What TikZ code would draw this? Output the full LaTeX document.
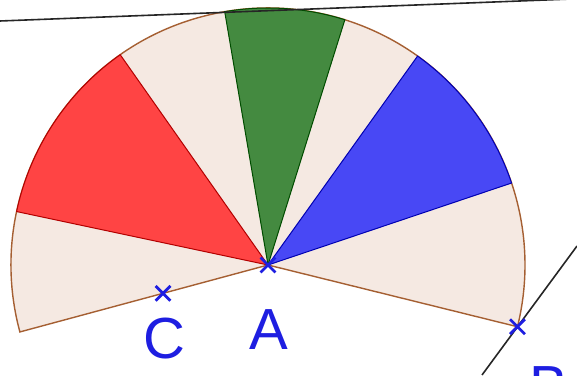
\documentclass[tikz,border=0pt]{standalone}
\usepackage{fontspec}
\setmainfont{Liberation Sans}
\usetikzlibrary{shapes.misc}
\definecolor{sectfill}{RGB}{245,233,226}
\definecolor{sectedge}{RGB}{165,95,50}
\definecolor{redfill}{RGB}{255,68,68}
\definecolor{greenfill}{RGB}{68,138,64}
\definecolor{bluefill}{RGB}{72,72,245}
\definecolor{ptblue}{RGB}{30,30,225}

\begin{document}
\begin{tikzpicture}[x=0.5pt,y=0.5pt,
  sector/.style={fill=sectfill,draw=sectedge,line width=0.7pt},
  redpart/.style={fill=redfill,draw=red!70!black,line width=0.5pt},
  greenpart/.style={fill=greenfill,draw=green!30!black,line width=0.5pt},
  bluepart/.style={fill=bluefill,draw=blue!70!black,line width=0.5pt},
  ptmark/.style={cross out,draw=ptblue,line width=1.4pt,minimum size=6pt,inner sep=0pt},
  ptlabel/.style={text=ptblue,font=\fontsize{29}{31}\selectfont,inner sep=0pt},
  thinline/.style={draw=black!85,line width=0.8pt}]
\clip (0,0) rectangle (577,375);
\def\R{257}
\coordinate (A) at (268,110);
\path (A) ++(-13.9:\R) coordinate (B);
\path (A) ++(195.1:\R) coordinate (Bl);
\path (A) ++(195.1:0.423*\R) coordinate (C);
\coordinate (T1) at (0,354);
\coordinate (T2) at (577,376.2);
\coordinate (D1) at (482,0);
\coordinate (D2) at (577,129);
% the half disk and its three coloured slices
\draw[sector] (A) -- (Bl) arc[start angle=195.1,end angle=-13.9,radius=\R] -- cycle;
\draw[redpart] (A) -- ++(125.1:\R) arc[start angle=125.1,end angle=168,radius=\R] -- cycle;
\draw[greenpart] (A) -- ++(72.6:\R) arc[start angle=72.6,end angle=99.7,radius=\R] -- cycle;
\draw[bluepart] (A) -- ++(18.6:\R) arc[start angle=18.6,end angle=54.4,radius=\R] -- cycle;
% lines
\draw[thinline] (T1) -- (T2);
\draw[thinline] (D1) -- (D2);
% points
\node[ptmark] (mA) at (A) {};
\node[ptmark] (mB) at (B) {};
\node[ptmark] (mC) at (C) {};
\node[ptlabel] (labA) at (269,45) {A};
\node[ptlabel] (labC) at (164,36) {C};
\node[ptlabel] (labB) at (549,-12) {B};
\end{tikzpicture}
\end{document}
